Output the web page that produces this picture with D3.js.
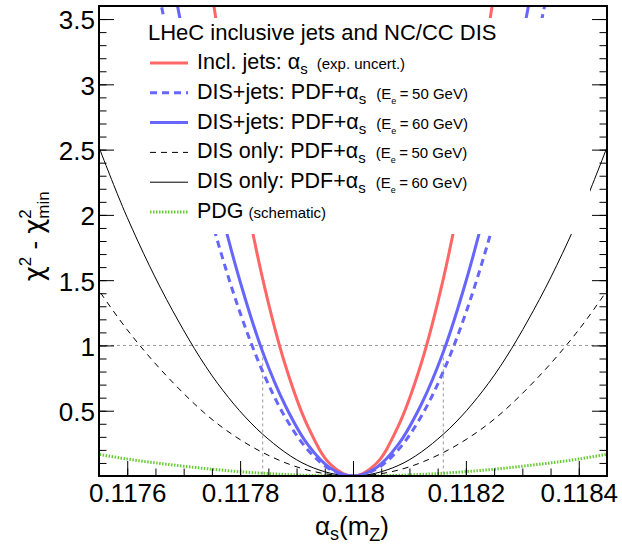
<!DOCTYPE html>
<html>
<head>
<meta charset="utf-8">
<script src="https://cdn.jsdelivr.net/npm/d3@7"></script>
<style>
body { margin: 0; background: #fff; }
text { font-family: "Liberation Sans", Arial, sans-serif; }
</style>
</head>
<body>
<script>
// chi2 - chi2min scans
var alphaJets = [0.11775, 0.1178, 0.11784, 0.11788, 0.11792, 0.11796, 0.118, 0.11804, 0.11808, 0.11812, 0.11816, 0.1182, 0.11825]
var chi2Jets = [3.70, 2.37, 1.51, 0.85, 0.38, 0.09, 0, 0.09, 0.38, 0.85, 1.51, 2.37, 3.70]

var alphaDisJets60 = [0.11768, 0.11772, 0.11776, 0.1178, 0.11784, 0.11788, 0.11792, 0.11796, 0.118, 0.11804, 0.11808, 0.11812, 0.11816, 0.1182, 0.11824, 0.11828, 0.11832]
var chi2DisJets60 = [3.81, 2.92, 2.14, 1.49, 0.95, 0.54, 0.24, 0.06, 0, 0.06, 0.24, 0.54, 0.95, 1.49, 2.14, 2.92, 3.81]

var alphaDisJets50 = [0.11764, 0.11768, 0.11772, 0.11776, 0.1178, 0.11784, 0.11788, 0.11792, 0.11796, 0.118, 0.11804, 0.11808, 0.11812, 0.11816, 0.1182, 0.11824, 0.11828, 0.11832, 0.11836]
var chi2DisJets50 = [4.04, 3.20, 2.45, 1.80, 1.25, 0.80, 0.45, 0.20, 0.05, 0, 0.05, 0.20, 0.45, 0.80, 1.25, 1.80, 2.45, 3.20, 4.04]

var alphaWide = [0.11752, 0.1176, 0.11768, 0.11776, 0.11784, 0.11792, 0.118, 0.11808, 0.11816, 0.11824, 0.11832, 0.1184, 0.11848]
var chi2Dis60 = [2.86, 1.98, 1.27, 0.71, 0.32, 0.08, 0, 0.08, 0.32, 0.71, 1.27, 1.98, 2.86]
var chi2Dis50 = [1.61, 1.12, 0.72, 0.40, 0.18, 0.045, 0, 0.045, 0.18, 0.40, 0.72, 1.12, 1.61]
var chi2Pdg = [0.19, 0.13, 0.085, 0.048, 0.021, 0.005, 0, 0.005, 0.021, 0.048, 0.085, 0.13, 0.19]

var oneSigmaBand = [0.11784, 0.11816]

var xMajorTicks = [0.1176, 0.1178, 0.118, 0.1182, 0.1184]
var xTickLabels = ["0.1176", "0.1178", "0.118", "0.1182", "0.1184"]
var yMajorTicks = [0.5, 1, 1.5, 2, 2.5, 3, 3.5]
var yTickLabels = ["0.5", "1", "1.5", "2", "2.5", "3", "3.5"]

var legendLabels = ["Incl. jets: ", "DIS+jets: PDF+", "DIS+jets: PDF+", "DIS only: PDF+", "DIS only: PDF+", "PDG"]
var legendBeam = [null, 50, 60, 50, 60, null]
var legendNotes = ["(exp. uncert.)", null, null, null, null, "(schematic)"]

var width = 622
var height = 544
var frameL = 99, frameR = 607, frameT = 6, frameB = 476

var x = d3.scaleLinear().domain([0.11755, 0.11845]).range([frameL, frameR])
var y = d3.scaleLinear().domain([0, 3.6]).range([frameB, frameT])

var svg = d3.select("body")
    .append("svg")
    .attr("width", width)
    .attr("height", height)

svg.append("defs").append("clipPath")
    .attr("id", "frame")
    .append("rect")
    .attr("x", frameL).attr("y", frameT)
    .attr("width", frameR - frameL).attr("height", frameB - frameT)

var series = [
    { a: alphaWide, c: chi2Pdg, color: "#66cc33", w: 3, dash: "1.5,1.5" },
    { a: alphaWide, c: chi2Dis50, color: "#000", w: 1, dash: "6,5" },
    { a: alphaWide, c: chi2Dis60, color: "#000", w: 1, dash: null },
    { a: alphaJets, c: chi2Jets, color: "#ff6666", w: 3, dash: null },
    { a: alphaDisJets50, c: chi2DisJets50, color: "#6666ff", w: 3, dash: "7,5" },
    { a: alphaDisJets60, c: chi2DisJets60, color: "#6666ff", w: 3, dash: null }
]
var legendSeries = [series[3], series[4], series[5], series[1], series[2], series[0]]

var plot = svg.append("g").attr("clip-path", "url(#frame)")

// chi2 = 1 line and the one sigma drop lines
plot.append("line")
    .attr("x1", frameL).attr("x2", frameR)
    .attr("y1", y(1)).attr("y2", y(1))
    .attr("stroke", "#999").attr("stroke-dasharray", "3,3")

plot.selectAll(".drop")
    .data(oneSigmaBand)
    .enter()
    .append("line")
    .attr("class", "drop")
    .attr("x1", d => x(d)).attr("x2", d => x(d))
    .attr("y1", y(1)).attr("y2", y(0))
    .attr("stroke", "#999").attr("stroke-dasharray", "3,3")

var line = d3.line()
    .x(d => x(d[0]))
    .y(d => y(d[1]))
    .curve(d3.curveCatmullRom)

plot.selectAll(".scan")
    .data(series)
    .enter()
    .append("path")
    .attr("class", "scan")
    .attr("d", d => line(d.a.map((v, i) => [v, d.c[i]])))
    .attr("fill", "none")
    .attr("stroke", d => d.color)
    .attr("stroke-width", d => d.w)
    .attr("stroke-dasharray", d => d.dash)

// axes, ROOT style ticks pointing inwards
function styleAxis(g) {
    g.select(".domain").remove()
    g.selectAll(".tick line").attr("stroke", "#000")
    g.selectAll("text").attr("font-size", 26).attr("fill", "#000")
        .attr("font-family", "'Liberation Sans', Arial, sans-serif")
}

var xMinor = d3.range(0, 19).map(i => 0.11755 + i * 0.00005)
var yMinor = d3.range(1, 36).map(i => i / 10)

svg.append("g")
    .attr("transform", "translate(0," + frameB + ")")
    .call(d3.axisBottom(x).tickValues(xMinor).tickSize(-7.5).tickFormat(""))
    .call(styleAxis)

svg.append("g")
    .attr("transform", "translate(0," + frameB + ")")
    .call(d3.axisBottom(x).tickValues(xMajorTicks).tickSize(-15).tickPadding(7.5)
        .tickFormat((d, i) => xTickLabels[i]))
    .call(styleAxis)

svg.append("g")
    .attr("transform", "translate(" + frameL + ",0)")
    .call(d3.axisLeft(y).tickValues(yMinor).tickSize(-7.5).tickFormat(""))
    .call(styleAxis)

svg.append("g")
    .attr("transform", "translate(" + frameL + ",0)")
    .call(d3.axisLeft(y).tickValues(yMajorTicks).tickSize(-15).tickPadding(4)
        .tickFormat((d, i) => yTickLabels[i]))
    .call(styleAxis)
    .selectAll("text").attr("dy", "0.38em")

svg.append("g")
    .attr("transform", "translate(" + frameR + ",0)")
    .call(d3.axisRight(y).tickValues(yMinor).tickSize(-7.5).tickFormat(""))
    .call(styleAxis)

svg.append("g")
    .attr("transform", "translate(" + frameR + ",0)")
    .call(d3.axisRight(y).tickValues(yMajorTicks).tickSize(-15).tickFormat(""))
    .call(styleAxis)

// legend (white box hides the curves behind it)
svg.append("rect")
    .attr("x", 140).attr("y", 18)
    .attr("width", 450).attr("height", 216)
    .attr("fill", "#fff")

svg.append("text")
    .attr("x", 148).attr("y", 40)
    .attr("font-size", 22)
    .text("LHeC inclusive jets and NC/CC DIS")

var rows = svg.selectAll(".entry")
    .data(legendSeries)
    .enter()
    .append("g")
    .attr("class", "entry")
    .attr("transform", (d, i) => "translate(0," + (69 + i * 29.8) + ")")

rows.append("line")
    .attr("x1", 150).attr("x2", 188)
    .attr("y1", -6).attr("y2", -6)
    .attr("stroke", d => d.color)
    .attr("stroke-width", d => d.w)
    .attr("stroke-dasharray", d => d.dash)

rows.each(function (d, i) {
    var t = d3.select(this).append("text")
        .attr("x", 197).attr("y", 0)
        .attr("font-size", 21.5)
    t.append("tspan").text(legendLabels[i])
    if (i < 5) {
        t.append("tspan").text("α")
        t.append("tspan").text("s").attr("font-size", 15).attr("dy", 5)
    }
    if (legendBeam[i] != null) {
        t.append("tspan").text("(E").attr("font-size", 15).attr("dy", -5).attr("dx", 10)
        t.append("tspan").text("e").attr("font-size", 9).attr("dy", 5)
        t.append("tspan").text("=").attr("font-size", 15).attr("dy", -5).attr("dx", 3.5)
        t.append("tspan").text(legendBeam[i] + " GeV)").attr("font-size", 15).attr("dx", 3.5)
    } else if (legendNotes[i] != null) {
        t.append("tspan").text(legendNotes[i]).attr("font-size", 15)
            .attr("dy", i < 5 ? -5 : 0).attr("dx", i < 5 ? 9 : 5)
    }
})

// frame
svg.append("rect")
    .attr("x", frameL).attr("y", frameT)
    .attr("width", frameR - frameL).attr("height", frameB - frameT)
    .attr("fill", "none").attr("stroke", "#000").attr("stroke-width", 2)

// axis titles
var xt = svg.append("text")
    .attr("x", 352).attr("y", 535)
    .attr("text-anchor", "middle")
    .attr("font-size", 26)
xt.append("tspan").text("α")
xt.append("tspan").text("s").attr("font-size", 18).attr("dy", 5)
xt.append("tspan").text("(m").attr("dy", -5)
xt.append("tspan").text("Z").attr("font-size", 18).attr("dy", 6)
xt.append("tspan").text(")").attr("dy", -6)

var yt = svg.append("g").attr("transform", "translate(43,237) rotate(-90)")
var yMain = yt.append("text").attr("font-size", 26)
yMain.append("tspan").text("χ").attr("font-family", "'DejaVu Sans', sans-serif")
yMain.append("tspan").text("2").attr("font-size", 17).attr("dy", -12)
yMain.append("tspan").text(" - ").attr("dy", 12)
yMain.append("tspan").text("χ").attr("font-family", "'DejaVu Sans', sans-serif")
var mainLen = yMain.node().getComputedTextLength()
var minLen = 26
var x0 = -(mainLen + minLen) / 2
yMain.attr("x", x0)
yt.append("text").attr("x", x0 + mainLen).attr("y", -12).attr("font-size", 17).text("2")
yt.append("text").attr("x", x0 + mainLen).attr("y", 6).attr("font-size", 17).text("min")
</script>
</body>
</html>
